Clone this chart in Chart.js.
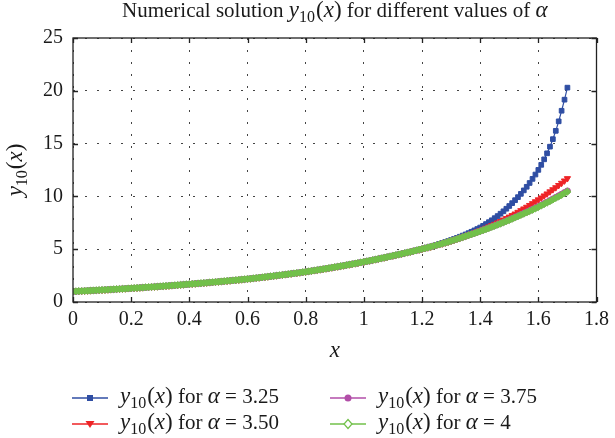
<!DOCTYPE html>
<html lang="en">
<head>
<meta charset="UTF-8">
<title>Numerical solution y10(x)</title>
<style>
  html, body { margin: 0; padding: 0; background: #fff; }
</style>
</head>
<body>
<canvas id="solChart" width="615" height="438"></canvas>
<script src="https://cdn.jsdelivr.net/npm/chart.js"></script>
<script>
// x grid of the computed solution, step 0.01
const xValues = [
  0.00, 0.01, 0.02, 0.03, 0.04, 0.05, 0.06, 0.07, 0.08, 0.09,
  0.10, 0.11, 0.12, 0.13, 0.14, 0.15, 0.16, 0.17, 0.18, 0.19,
  0.20, 0.21, 0.22, 0.23, 0.24, 0.25, 0.26, 0.27, 0.28, 0.29,
  0.30, 0.31, 0.32, 0.33, 0.34, 0.35, 0.36, 0.37, 0.38, 0.39,
  0.40, 0.41, 0.42, 0.43, 0.44, 0.45, 0.46, 0.47, 0.48, 0.49,
  0.50, 0.51, 0.52, 0.53, 0.54, 0.55, 0.56, 0.57, 0.58, 0.59,
  0.60, 0.61, 0.62, 0.63, 0.64, 0.65, 0.66, 0.67, 0.68, 0.69,
  0.70, 0.71, 0.72, 0.73, 0.74, 0.75, 0.76, 0.77, 0.78, 0.79,
  0.80, 0.81, 0.82, 0.83, 0.84, 0.85, 0.86, 0.87, 0.88, 0.89,
  0.90, 0.91, 0.92, 0.93, 0.94, 0.95, 0.96, 0.97, 0.98, 0.99,
  1.00, 1.01, 1.02, 1.03, 1.04, 1.05, 1.06, 1.07, 1.08, 1.09,
  1.10, 1.11, 1.12, 1.13, 1.14, 1.15, 1.16, 1.17, 1.18, 1.19,
  1.20, 1.21, 1.22, 1.23, 1.24, 1.25, 1.26, 1.27, 1.28, 1.29,
  1.30, 1.31, 1.32, 1.33, 1.34, 1.35, 1.36, 1.37, 1.38, 1.39,
  1.40, 1.41, 1.42, 1.43, 1.44, 1.45, 1.46, 1.47, 1.48, 1.49,
  1.50, 1.51, 1.52, 1.53, 1.54, 1.55, 1.56, 1.57, 1.58, 1.59,
  1.60, 1.61, 1.62, 1.63, 1.64, 1.65, 1.66, 1.67, 1.68, 1.69,
  1.70
];

// the four curves coincide for x <= 1.20
const commonPart = [
  1.000, 1.013, 1.027, 1.040, 1.054, 1.068, 1.082, 1.096, 1.111, 1.125,
  1.140, 1.155, 1.170, 1.185, 1.201, 1.217, 1.233, 1.249, 1.266, 1.283,
  1.300, 1.317, 1.334, 1.351, 1.369, 1.387, 1.405, 1.423, 1.442, 1.461,
  1.480, 1.500, 1.520, 1.540, 1.561, 1.582, 1.603, 1.624, 1.646, 1.668,
  1.690, 1.712, 1.734, 1.756, 1.778, 1.801, 1.824, 1.847, 1.871, 1.895,
  1.920, 1.944, 1.969, 1.994, 2.020, 2.046, 2.072, 2.098, 2.125, 2.152,
  2.180, 2.210, 2.241, 2.272, 2.303, 2.335, 2.367, 2.400, 2.433, 2.466,
  2.500, 2.534, 2.568, 2.603, 2.638, 2.674, 2.710, 2.747, 2.784, 2.822,
  2.860, 2.901, 2.943, 2.985, 3.028, 3.072, 3.116, 3.161, 3.206, 3.253,
  3.300, 3.347, 3.394, 3.442, 3.491, 3.541, 3.591, 3.642, 3.694, 3.747,
  3.800, 3.854, 3.909, 3.965, 4.022, 4.080, 4.138, 4.197, 4.257, 4.318,
  4.380, 4.440, 4.501, 4.563, 4.626, 4.690, 4.754, 4.819, 4.885, 4.952,
  5.020
];

// x = 1.21 .. 1.70
const tail325 = [
  5.09, 5.17, 5.25, 5.33, 5.41, 5.50, 5.59, 5.68, 5.77, 5.87,
  5.97, 6.07, 6.18, 6.29, 6.40, 6.52, 6.65, 6.78, 6.91, 7.05,
  7.21, 7.38, 7.56, 7.74, 7.94, 8.14, 8.36, 8.59, 8.83, 9.09,
  9.36, 9.64, 9.93, 10.24, 10.57, 10.91, 11.27, 11.66, 12.07, 12.51,
  12.99, 13.51, 14.08, 14.71, 15.42, 16.21, 17.11, 18.11, 19.16, 20.30
];
const tail350 = [
  5.09, 5.15, 5.22, 5.30, 5.37, 5.45, 5.52, 5.61, 5.69, 5.78,
  5.86, 5.96, 6.05, 6.15, 6.24, 6.35, 6.45, 6.55, 6.67, 6.78,
  6.90, 7.01, 7.13, 7.26, 7.38, 7.51, 7.64, 7.78, 7.92, 8.06,
  8.20, 8.35, 8.51, 8.67, 8.83, 8.99, 9.16, 9.33, 9.51, 9.69,
  9.87, 10.06, 10.25, 10.45, 10.65, 10.84, 11.05, 11.26, 11.48, 11.70
];
const tail375 = [
  5.09, 5.16, 5.23, 5.30, 5.38, 5.45, 5.53, 5.61, 5.69, 5.78,
  5.87, 5.96, 6.05, 6.14, 6.23, 6.33, 6.42, 6.51, 6.61, 6.71,
  6.81, 6.91, 7.02, 7.13, 7.23, 7.34, 7.45, 7.56, 7.68, 7.79,
  7.91, 8.03, 8.15, 8.28, 8.40, 8.52, 8.65, 8.78, 8.91, 9.04,
  9.18, 9.32, 9.46, 9.61, 9.76, 9.91, 10.06, 10.21, 10.37, 10.52
];
const tail400 = [
  5.09, 5.16, 5.23, 5.30, 5.38, 5.45, 5.53, 5.61, 5.69, 5.78,
  5.87, 5.96, 6.05, 6.14, 6.23, 6.32, 6.41, 6.50, 6.60, 6.70,
  6.80, 6.90, 7.00, 7.11, 7.21, 7.32, 7.43, 7.54, 7.65, 7.76,
  7.88, 8.00, 8.12, 8.24, 8.36, 8.48, 8.61, 8.73, 8.86, 8.99,
  9.13, 9.27, 9.41, 9.55, 9.70, 9.85, 9.99, 10.14, 10.30, 10.45
];

const alpha325 = commonPart.concat(tail325);
const alpha350 = commonPart.concat(tail350);
const alpha375 = commonPart.concat(tail375);
const alpha400 = commonPart.concat(tail400);

const alphaLabels = ['3.25', '3.50', '3.75', '4'];
const xTickLabels = ['0', '0.2', '0.4', '0.6', '0.8', '1', '1.2', '1.4', '1.6', '1.8'];
const yTickLabels = ['0', '5', '10', '15', '20', '25'];

const SERIF = '"Liberation Serif", "Times New Roman", serif';
const TEXT = '#1a1a1a';

function toPoints(ys) {
  return xValues.map((x, i) => ({ x: x, y: ys[i] }));
}

// y10(x) as rich text pieces (m = math size)
function yTen() {
  return [
    { t: 'y', it: true, m: true }, { t: '10', sub: true, m: true },
    { t: '(', m: true }, { t: 'x', it: true, m: true }, { t: ')', m: true }
  ];
}

function drawRich(ctx, parts, x, y, size, mathSize, align) {
  let total = 0;
  const items = parts.map(p => {
    let s = p.m ? mathSize : size;
    if (p.sub) s = Math.round(s * 0.7);
    const font = (p.it ? 'italic ' : '') + s + 'px ' + SERIF;
    ctx.font = font;
    const w = ctx.measureText(p.t).width + (p.sub ? 1 : 0);
    total += w;
    return { t: p.t, sub: p.sub, font: font, w: w };
  });
  let cx = align === 'center' ? x - total / 2 : x;
  ctx.textAlign = 'left';
  ctx.textBaseline = 'alphabetic';
  items.forEach(it => {
    ctx.font = it.font;
    ctx.fillText(it.t, cx, it.sub ? y + mathSize * 0.22 : y);
    cx += it.w;
  });
}

function drawMarker(ctx, style, x, y, color) {
  ctx.save();
  ctx.fillStyle = color;
  ctx.strokeStyle = color;
  ctx.lineWidth = 1.2;
  ctx.beginPath();
  if (style === 'square') {
    ctx.rect(x - 3, y - 3, 6, 6);
    ctx.fill();
  } else if (style === 'down') {
    ctx.moveTo(x - 4.5, y - 3);
    ctx.lineTo(x + 4.5, y - 3);
    ctx.lineTo(x, y + 4);
    ctx.closePath();
    ctx.fill();
  } else if (style === 'circle') {
    ctx.arc(x, y, 3.5, 0, Math.PI * 2);
    ctx.fill();
  } else {
    ctx.moveTo(x, y - 4.5);
    ctx.lineTo(x + 4, y);
    ctx.lineTo(x, y + 4.5);
    ctx.lineTo(x - 4, y);
    ctx.closePath();
    ctx.fillStyle = '#fff';
    ctx.fill();
    ctx.stroke();
  }
  ctx.restore();
}

const legendSlots = [
  { x: 72, y: 398, marker: 'square' },
  { x: 72, y: 424, marker: 'down' },
  { x: 330, y: 398, marker: 'circle' },
  { x: 330, y: 424, marker: 'diamond' }
];

const framePlugin = {
  id: 'frame',
  afterDraw(chart) {
    const ctx = chart.ctx;
    const a = chart.chartArea;
    const xs = chart.scales.x;
    const ys = chart.scales.y;
    ctx.save();

    // box and inward ticks
    ctx.strokeStyle = '#222';
    ctx.lineWidth = 1.3;
    ctx.strokeRect(a.left, a.top, a.right - a.left, a.bottom - a.top);
    ctx.beginPath();
    xs.ticks.forEach(t => {
      const px = Math.round(xs.getPixelForValue(t.value)) + 0.5;
      ctx.moveTo(px, a.bottom); ctx.lineTo(px, a.bottom - 5);
      ctx.moveTo(px, a.top); ctx.lineTo(px, a.top + 5);
    });
    ys.ticks.forEach(t => {
      const py = Math.round(ys.getPixelForValue(t.value)) + 0.5;
      ctx.moveTo(a.left, py); ctx.lineTo(a.left + 5, py);
      ctx.moveTo(a.right, py); ctx.lineTo(a.right - 5, py);
    });
    ctx.stroke();

    ctx.fillStyle = TEXT;
    // title
    drawRich(ctx, [{ t: 'Numerical solution ' }].concat(yTen(),
      [{ t: ' for different values of ' }, { t: '\u03b1', it: true, m: true }]),
      (a.left + a.right) / 2, 17, 21, 23, 'center');

    // axis titles
    drawRich(ctx, [{ t: 'x', it: true, m: true }], (a.left + a.right) / 2, 357, 23, 23, 'center');
    ctx.save();
    ctx.translate(22, (a.top + a.bottom) / 2);
    ctx.rotate(-Math.PI / 2);
    drawRich(ctx, yTen(), 0, 0, 23, 23, 'center');
    ctx.restore();

    // legend
    chart.data.datasets.forEach((ds, i) => {
      const s = legendSlots[i];
      ctx.strokeStyle = ds.borderColor;
      ctx.lineWidth = 1.3;
      ctx.beginPath();
      ctx.moveTo(s.x, s.y);
      ctx.lineTo(s.x + 36, s.y);
      ctx.stroke();
      drawMarker(ctx, s.marker, s.x + 18, s.y, ds.borderColor);
      ctx.fillStyle = TEXT;
      drawRich(ctx, yTen().concat([{ t: ' for ' }, { t: '\u03b1', it: true, m: true }, { t: ' = ' + alphaLabels[i] }]),
        s.x + 48, s.y + 5, 21, 23, 'left');
    });
    ctx.restore();
  }
};

function series(label, ys, color, style, rotation, radius, order) {
  return {
    label: label,
    data: toPoints(ys),
    borderColor: color,
    backgroundColor: color,
    borderWidth: 1.2,
    pointStyle: style,
    rotation: rotation,
    pointRadius: radius,
    pointBorderWidth: 1,
    pointBackgroundColor: color,
    pointBorderColor: color,
    order: order
  };
}

const ctx = document.getElementById('solChart').getContext('2d');
const solChart = new Chart(ctx, {
  type: 'line',
  data: {
    datasets: [
      series('alpha = 3.25', alpha325, '#2f4ea3', 'rect', 0, 3.3, 4),
      series('alpha = 3.50', alpha350, '#ee2326', 'triangle', 180, 3.6, 3),
      series('alpha = 3.75', alpha375, '#b24ea8', 'circle', 0, 3, 2),
      series('alpha = 4', alpha400, '#72c04a', 'rectRot', 0, 3.6, 1)
    ]
  },
  options: {
    responsive: false,
    animation: false,
    events: [],
    layout: { padding: { top: 38, right: 15, bottom: 100, left: 0 } },
    plugins: { legend: { display: false }, title: { display: false }, tooltip: { enabled: false } },
    scales: {
      x: {
        type: 'linear',
        min: 0,
        max: 1.8,
        afterFit: s => { s.height = 36; },
        ticks: {
          stepSize: 0.2,
          padding: 6,
          color: TEXT,
          font: { family: SERIF, size: 20 },
          callback: (v, i) => xTickLabels[i]
        },
        grid: { color: '#444', lineWidth: 1, drawTicks: false },
        border: { display: false, dash: [2, 10] }
      },
      y: {
        min: 0,
        max: 25,
        afterFit: s => { s.width = 73; },
        ticks: {
          stepSize: 5,
          padding: 10,
          color: TEXT,
          font: { family: SERIF, size: 20 },
          callback: (v, i) => yTickLabels[i]
        },
        grid: { color: '#444', lineWidth: 1, drawTicks: false },
        border: { display: false, dash: [2, 10] }
      }
    }
  },
  plugins: [framePlugin]
});
</script>
</body>
</html>
